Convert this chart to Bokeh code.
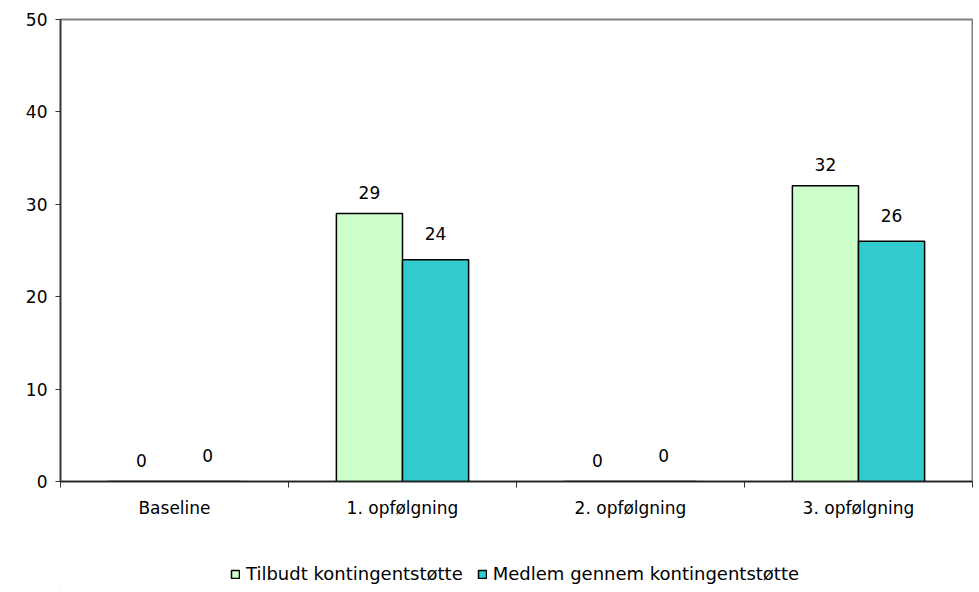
from bokeh.plotting import figure
from bokeh.layouts import column
from bokeh.models import FixedTicker, ColumnDataSource, Legend, LegendItem, Range1d
from bokeh.embed import file_html
from bokeh.resources import INLINE
from bokeh.core.properties import value
import numpy as np

categories = ["Baseline", "1. opfølgning", "2. opfølgning", "3. opfølgning"]
series_names = ["Tilbudt kontingentstøtte", "Medlem gennem kontingentstøtte"]
tilbudt = [0, 29, 0, 32]
medlem = [0, 24, 0, 26]
y_ticks = [0, 10, 20, 30, 40, 50]

colors = ["#CCFFCC", "#33CCCC"]
FONT = "DejaVu Sans"

p = figure(width=973, height=545, output_backend="svg", toolbar_location=None,
           x_range=Range1d(0, len(categories)), y_range=Range1d(0, 50),
           min_border_left=60, min_border_right=1, min_border_top=19, min_border_bottom=64)

idx = np.arange(len(categories)) + 0.5
bw = 0.29
offsets = [-bw / 2, bw / 2]
label_offsets = [21, 26]
for vals, col, off, lo in zip([tilbudt, medlem], colors, offsets, label_offsets):
    src = ColumnDataSource(dict(x=idx + off, top=vals, lab=[str(v) for v in vals]))
    p.vbar(x="x", top="top", width=bw, bottom=0, source=src,
           fill_color=col, line_color="black", line_width=1.5)
    p.text(x="x", y="top", text="lab", source=src, text_align="center",
           text_baseline="middle", y_offset=-lo, text_font=value(FONT),
           text_font_size="17px", text_color="black")

p.xgrid.visible = False
p.ygrid.visible = False
p.outline_line_color = "#808080"
p.outline_line_width = 2

# x axis: labels at centres, tick marks at category boundaries
p.xaxis.ticker = FixedTicker(ticks=list(idx), minor_ticks=list(range(len(categories) + 1)))
p.xaxis.major_label_overrides = {float(v): c for v, c in zip(idx, categories)}
p.xaxis.major_tick_line_color = None
p.xaxis.minor_tick_in = 0
p.xaxis.minor_tick_out = 6
p.xaxis.minor_tick_line_color = "#333333"
p.xaxis.axis_line_color = "#222222"
p.xaxis.axis_line_width = 1.5
p.xaxis.major_label_text_font = FONT
p.xaxis.major_label_text_font_size = "17px"
p.xaxis.major_label_text_color = "black"
p.xaxis.major_label_standoff = 10

p.yaxis.ticker = FixedTicker(ticks=y_ticks, minor_ticks=[])
p.yaxis.major_tick_in = 0
p.yaxis.major_tick_out = 5
p.yaxis.major_tick_line_color = "#333333"
p.yaxis.axis_line_color = "#333333"
p.yaxis.axis_line_width = 1.5
p.yaxis.major_label_text_font = FONT
p.yaxis.major_label_text_font_size = "17px"
p.yaxis.major_label_text_color = "black"
p.yaxis.major_label_standoff = 8

# legend strip below the chart (proxy glyphs lie outside the visible range)
lg = figure(width=973, height=45, output_backend="svg", toolbar_location=None,
            x_range=Range1d(0, 1), y_range=Range1d(0, 1),
            min_border=0, min_border_left=0, min_border_right=0, min_border_top=0, min_border_bottom=0)
lg.axis.visible = False
lg.grid.visible = False
lg.outline_line_color = None
items = []
for name, col in zip(series_names, colors):
    r = lg.vbar(x=[-10], top=[-9], bottom=[-10], width=1, fill_color=col,
                line_color="black", line_width=1.5)
    items.append(LegendItem(label=name, renderers=[r]))
legend = Legend(items=items, orientation="horizontal", location=(170, 6),
                label_text_font=FONT, label_text_font_size="18px", label_text_color="black",
                glyph_width=10, glyph_height=10, spacing=14, label_standoff=6,
                border_line_color=None, background_fill_alpha=0, margin=0, padding=0)
lg.add_layout(legend, "center")

open("out.html", "w").write(file_html(column(p, lg, spacing=0), INLINE))
